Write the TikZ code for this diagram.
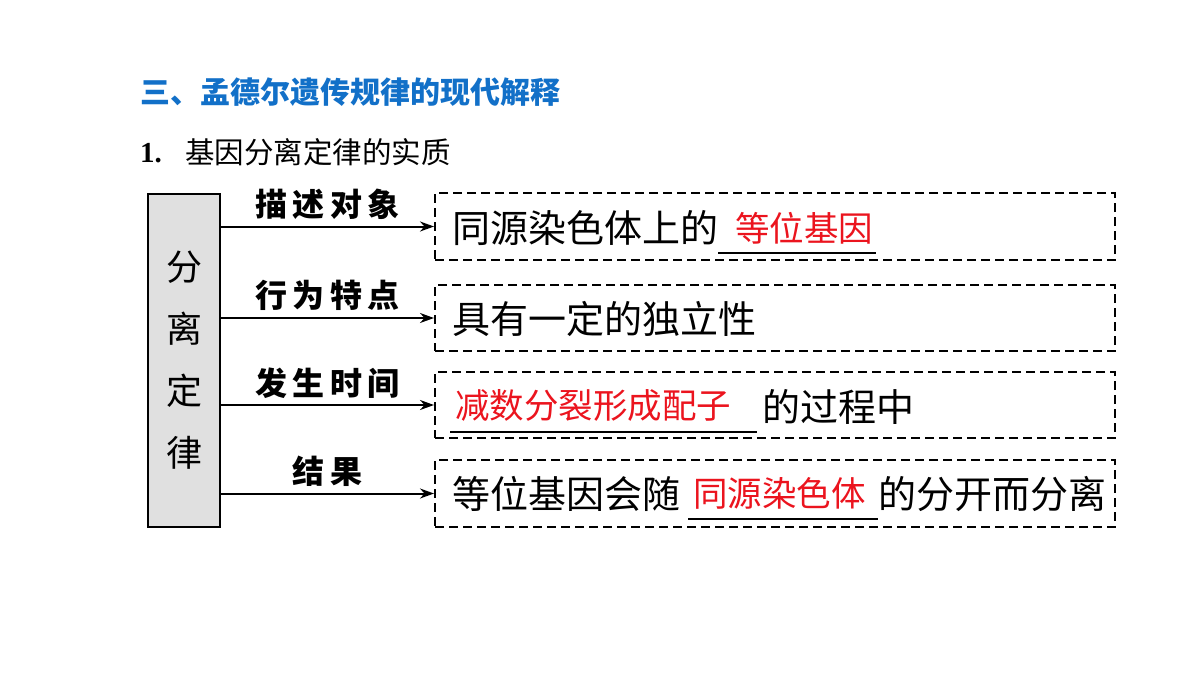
\documentclass[tikz,border=0pt]{standalone}
\usepackage{fontspec}
\setmainfont{Liberation Serif}
\newfontfamily\cjk{Noto Sans CJK SC}
\usetikzlibrary{arrows.meta}
\definecolor{titleblue}{RGB}{18,112,200}
\definecolor{ansred}{RGB}{235,20,30}
\definecolor{lawgray}{RGB}{224,224,224}
\newcommand{\fs}[1]{\fontsize{#1}{#1}\selectfont}
\begin{document}
\begin{tikzpicture}[x=1pt,y=-1pt,
  txt/.style={inner sep=0, anchor=west, font=\cjk\fs{38}},
  ans/.style={inner sep=0, anchor=west, font=\cjk\fs{34.5}, text=ansred},
  dbox/.style={draw, line width=2pt, dash pattern=on 9pt off 5pt, minimum width=680pt, inner sep=0},
  lab/.style={inner sep=0, font=\cjk\bfseries\fs{32}},
  conn/.style={-{Stealth[length=14pt,width=10pt]}, line width=2pt},
  uline/.style={line width=2.5pt}]
\useasboundingbox (0,0) rectangle (1200,675);

% headings
\node[inner sep=0, anchor=west, font=\cjk\bfseries\fs{30}, text=titleblue] (title) at (140,92) {三、孟德尔遗传规律的现代解释};
\node[inner sep=0, anchor=west, font=\fs{29}\bfseries] (num) at (140,153) {1.};
\node[inner sep=0, anchor=west, font=\cjk\fs{29.5}] (sub) at (185,152) {基因分离定律的实质};

% law box
\node[draw, line width=2pt, fill=lawgray, minimum width=72pt, minimum height=333pt, inner sep=0,
      align=center, font=\cjk\fontsize{36}{62}\selectfont] (law) at (184,360.5) {分\\离\\定\\律};

% dashed boxes
\node[dbox, minimum height=67pt] (d1) at (775,226.5) {};
\node[dbox, minimum height=66pt] (d2) at (775,318) {};
\node[dbox, minimum height=66pt] (d3) at (775,405) {};
\node[dbox, minimum height=67pt] (d4) at (775,493.5) {};

% connectors with labels
\draw[conn] (law.east |- d1.west) -- (d1.west) node[midway, lab, yshift=22pt] (l1) {描\hspace{5.5pt}述\hspace{5.5pt}对\hspace{5.5pt}象};
\draw[conn] (law.east |- d2.west) -- (d2.west) node[midway, lab, yshift=23pt] (l2) {行\hspace{5.5pt}为\hspace{5.5pt}特\hspace{5.5pt}点};
\draw[conn] (law.east |- d3.west) -- (d3.west) node[midway, lab, yshift=22pt] (l3) {发\hspace{5.5pt}生\hspace{5.5pt}时\hspace{5.5pt}间};
\draw[conn] (law.east |- d4.west) -- (d4.west) node[midway, lab, yshift=22pt] (l4) {结\hspace{5.5pt}果};

% row 1
\node[txt] (t1) at (452,228) {同源染色体上的};
\node[ans] (a1) at (735,228) {等位基因};
\draw[uline] (718,253) -- (876,253);

% row 2
\node[txt] (t2) at (452,319) {具有一定的独立性};

% row 3
\node[ans] (a3) at (455,405) {减数分裂形成配子};
\node[txt] (t3) at (762,407) {的过程中};
\draw[uline] (450,432) -- (757,432);

% row 4
\node[txt] (t4a) at (452,494) {等位基因会随};
\node[ans] (a4) at (693,493) {同源染色体};
\node[txt] (t4b) at (878,494) {的分开而分离};
\draw[uline] (688,519) -- (878,519);
\end{tikzpicture}
\end{document}
